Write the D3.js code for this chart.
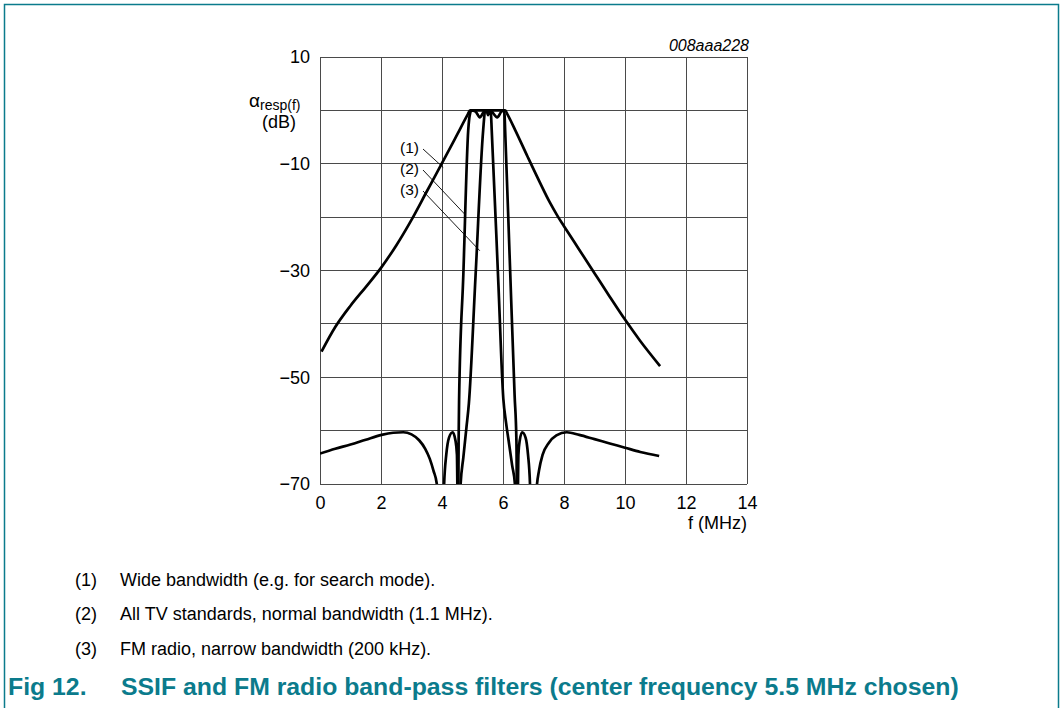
<!DOCTYPE html>
<html>
<head>
<meta charset="utf-8">
<title>SSIF and FM radio band-pass filters</title>
<script src="https://d3js.org/d3.v7.min.js"></script>
<style>
  body { margin: 0; background: #fff; }
  svg { display: block; font-family: "Liberation Sans", Arial, sans-serif; }
</style>
</head>
<body>
<div id="chart"></div>
<script>
// axis ticks
const xTicks = [0, 2, 4, 6, 8, 10, 12, 14];          // f (MHz)
const yGrid = [10, 0, -10, -20, -30, -40, -50, -60, -70];
const yLabels = [10, -10, -30, -50, -70];            // dB

// (1) wide bandwidth
const wideF  = [0.05, 0.5, 1.0, 1.5, 2.0, 2.5, 3.0, 3.5, 4.0, 4.5, 4.85, 4.92, 5.5, 6.07, 6.15, 6.4, 6.8, 7.2, 7.54, 7.8, 8.0, 8.5, 9.0, 9.5, 10.0, 10.5, 11.15];
const wideDb = [-45.2, -40.6, -36.6, -33.1, -29.5, -25.3, -20.5, -15.2, -9.9, -4.5, -0.7, 0, 0, 0, -0.8, -3.7, -8.6, -13.4, -17.3, -19.9, -21.7, -26.1, -30.5, -34.9, -39.2, -43.2, -47.9];

// (2) all TV standards, normal bandwidth
const normalF  = [4.0, 4.07, 4.14, 4.23, 4.35, 4.44, 4.49, 4.525, 4.545, 4.56, 4.7, 4.86, 4.92, 4.97, 5.1, 5.24, 5.38, 5.5, 5.62, 5.81, 5.95, 6.02, 6.05, 6.07, 6.22, 6.38, 6.44, 6.47, 6.505, 6.55, 6.63, 6.74, 6.82, 6.885, 6.95];
const normalDb = [-85, -70, -64.5, -61.3, -60.3, -61.8, -64.5, -80, -62, -54.3, -30.7, -3.7, -0.6, 0, -0.2, -1.3, -0.2, 0, -0.2, -1.3, -0.2, 0, -0.8, -3.7, -27.7, -53.3, -62, -80, -64.5, -61.8, -60.3, -61.3, -64.5, -70, -85];

// (3) FM radio, narrow bandwidth
const narrowF  = [0, 0.5, 1.0, 1.5, 2.02, 2.4, 2.73, 3.0, 3.25, 3.45, 3.6, 3.72, 3.83, 3.9, 4.2, 4.55, 4.61, 4.7, 4.8, 4.88, 5.1, 5.35, 5.41, 5.46, 5.51, 5.56, 5.6, 5.63, 5.85, 6.01, 6.1, 6.2, 6.3, 6.39, 6.45, 6.8, 7.05, 7.1, 7.18, 7.3, 7.5, 7.75, 8.09, 8.5, 9.0, 9.5, 10.0, 10.5, 11.12];
const narrowDb = [-64.3, -63.4, -62.6, -61.7, -60.8, -60.4, -60.3, -60.7, -61.8, -63.4, -65.3, -67.5, -70, -75, -85, -78, -70, -65, -59.5, -55, -31, -3.7, -0.2, 0, -0.9, 0, -0.3, -3.7, -32.7, -54, -58.5, -62.5, -66.5, -70, -78, -85, -76, -71, -67.5, -64.5, -62.3, -60.9, -60.3, -60.8, -61.6, -62.4, -63.2, -64, -64.75];

const curveLabels = ["(1)", "(2)", "(3)"];
const legendTexts = [
  "Wide bandwidth (e.g. for search mode).",
  "All TV standards, normal bandwidth (1.1 MHz).",
  "FM radio, narrow bandwidth (200 kHz)."
];
const figNumber = "Fig 12.";
const figTitle = "SSIF and FM radio band-pass filters (center frequency 5.5 MHz chosen)";

const teal = "#0b7b8c";

const svg = d3.select("#chart").append("svg")
  .attr("width", 1063)
  .attr("height", 708);

// frame around the figure (open at the bottom)
svg.append("path")
  .attr("d", "M4.5,708 V4.5 H1058.5 V708")
  .attr("fill", "none")
  .attr("stroke", teal)
  .attr("stroke-width", 1.5);

const x = d3.scaleLinear().domain([0, 14]).range([320, 747]);
const y = d3.scaleLinear().domain([-70, 10]).range([484, 57]);

// grid
const grid = svg.append("g").attr("stroke", "#4a4a4a").attr("stroke-width", 1).attr("shape-rendering", "crispEdges");
grid.selectAll(".v").data(xTicks).join("line")
  .attr("x1", d => x(d)).attr("x2", d => x(d))
  .attr("y1", y(10)).attr("y2", y(-70));
grid.selectAll(".h").data(yGrid).join("line")
  .attr("x1", x(0)).attr("x2", x(14))
  .attr("y1", d => y(d)).attr("y2", d => y(d));

// axes (labels only)
const yAxis = svg.append("g")
  .attr("transform", `translate(${x(0)},0)`)
  .call(d3.axisLeft(y).tickValues(yLabels).tickSize(0).tickPadding(10));
const xAxis = svg.append("g")
  .attr("transform", `translate(0,${y(-70)})`)
  .call(d3.axisBottom(x).tickValues(xTicks).tickSize(0).tickPadding(12));
[yAxis, xAxis].forEach(g => {
  g.select(".domain").remove();
  g.attr("font-family", null).attr("font-size", 18);
  g.selectAll("text").attr("fill", "#000");
});

svg.append("text")
  .attr("x", 747).attr("y", 529)
  .attr("text-anchor", "end")
  .attr("font-size", 18)
  .text("f (MHz)");

svg.append("text")
  .attr("x", 749).attr("y", 51)
  .attr("text-anchor", "end")
  .attr("font-size", 16)
  .attr("font-style", "italic")
  .text("008aaa228");

// y title: alpha with subscript, (dB) below
const yt = svg.append("text").attr("x", 249).attr("y", 107).attr("font-size", 19);
yt.append("tspan").text("\u03b1");
yt.append("tspan").attr("font-size", 14).attr("dy", 3).text("resp(f)");
svg.append("text")
  .attr("x", 279).attr("y", 128)
  .attr("text-anchor", "middle")
  .attr("font-size", 18)
  .text("(dB)");

// curves
svg.append("clipPath").attr("id", "plot-clip")
  .append("rect")
  .attr("x", x(0)).attr("y", y(10))
  .attr("width", x(14) - x(0)).attr("height", y(-70) - y(10));

const line = d3.line()
  .x(d => x(d[0]))
  .y(d => y(d[1]))
  .curve(d3.curveMonotoneX);

const series = [
  d3.zip(wideF, wideDb),
  d3.zip(normalF, normalDb),
  d3.zip(narrowF, narrowDb)
];

svg.append("g")
  .attr("clip-path", "url(#plot-clip)")
  .selectAll("path")
  .data(series)
  .join("path")
  .attr("d", line)
  .attr("fill", "none")
  .attr("stroke", "#000")
  .attr("stroke-width", 2.7)
  .attr("stroke-linejoin", "round");

// leader lines from labels to curves: [f, dB] of the point touched
const leaderEnds = [[4.04, -10.7], [4.77, -19.6], [5.24, -26.3]];
const labelY = [153, 174, 195];
curveLabels.forEach((lab, i) => {
  svg.append("text")
    .attr("x", 419).attr("y", labelY[i])
    .attr("text-anchor", "end")
    .attr("font-size", 15.5)
    .text(lab);
  svg.append("line")
    .attr("x1", 423).attr("y1", labelY[i] - 4)
    .attr("x2", x(leaderEnds[i][0])).attr("y2", y(leaderEnds[i][1]))
    .attr("stroke", "#000")
    .attr("stroke-width", 0.9);
});

// notes under the chart
const legendY = [586, 620, 655];
curveLabels.forEach((lab, i) => {
  svg.append("text").attr("x", 75).attr("y", legendY[i]).attr("font-size", 18).text(lab);
  svg.append("text").attr("x", 120).attr("y", legendY[i]).attr("font-size", 18).text(legendTexts[i]);
});

// figure caption
svg.append("text").attr("x", 8).attr("y", 695)
  .attr("font-size", 24.8).attr("font-weight", "bold").attr("fill", teal)
  .text(figNumber);
svg.append("text").attr("x", 121).attr("y", 695)
  .attr("font-size", 24.8).attr("font-weight", "bold").attr("fill", teal)
  .text(figTitle);
</script>
</body>
</html>
